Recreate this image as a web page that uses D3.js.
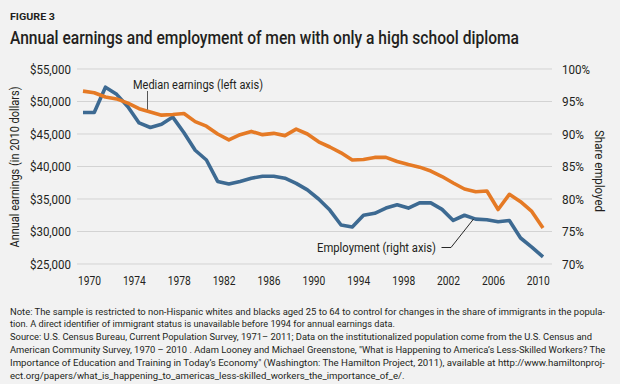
<!DOCTYPE html>
<html>
<head>
<meta charset="utf-8">
<script src="https://cdn.jsdelivr.net/npm/d3@7/dist/d3.min.js"></script>
<style>
  html, body { margin: 0; padding: 0; background: #f2f2f2; }
  svg { display: block; font-family: Roboto, "Noto Sans", sans-serif; }
</style>
</head>
<body>
<svg id="chart" width="620" height="384"></svg>
<script>
// data
const years = [1970, 1971, 1972, 1973, 1974, 1975, 1976, 1977, 1978, 1979,
  1980, 1981, 1982, 1983, 1984, 1985, 1986, 1987, 1988, 1989,
  1990, 1991, 1992, 1993, 1994, 1995, 1996, 1997, 1998, 1999,
  2000, 2001, 2002, 2003, 2004, 2005, 2006, 2007, 2008, 2009,
  2010, 2011];
// median earnings, 2010 dollars (left axis)
const earnings = [51600, 51350, 50700, 50400, 49750, 48900, 48400, 47900, 48000, 48150,
  46900, 46200, 45000, 44100, 44900, 45400, 44900, 45100, 44750, 45750,
  45000, 43800, 43000, 42100, 41000, 41080, 41400, 41400, 40770, 40300,
  39900, 39300, 38460, 37460, 36540, 36120, 36230, 33380, 35720, 34580,
  33080, 30540];
// share employed, % (right axis)
const employment = [93.3, 93.3, 97.2, 96.1, 94.2, 91.7, 91.0, 91.5, 92.6, 90.2,
  87.5, 86.0, 82.7, 82.3, 82.7, 83.2, 83.5, 83.5, 83.2, 82.4,
  81.4, 80.0, 78.3, 76.0, 75.7, 77.5, 77.8, 78.6, 79.1, 78.6,
  79.4, 79.4, 78.4, 76.7, 77.5, 76.9, 76.8, 76.5, 76.7, 74.0,
  72.6, 71.1];

const yearTicks = [1970, 1974, 1978, 1982, 1986, 1990, 1994, 1998, 2002, 2006, 2010];
const earningsTicks = [25000, 30000, 35000, 40000, 45000, 50000, 55000];
const shareTicks = [70, 75, 80, 85, 90, 95, 100];

const noteLines = [
  "Note: The sample is restricted to non-Hispanic whites and blacks aged 25 to 64 to control for changes in the share of immigrants in the popula-",
  "tion. A direct identifier of immigrant status is unavailable before 1994 for annual earnings data.",
  "Source: U.S. Census Bureau, Current Population Survey, 1971\u2013 2011; Data on the institutionalized population come from the U.S. Census and",
  "American Community Survey, 1970 \u2013 2010 . Adam Looney and Michael Greenstone, \"What is Happening to America\u2019s Less-Skilled Workers? The",
  "Importance of Education and Training in Today\u2019s Economy\" (Washington: The Hamilton Project, 2011), available at http://www.hamiltonproj-",
  "ect.org/papers/what_is_happening_to_americas_less-skilled_workers_the_importance_of_e/."
];
const noteWidths = [595, 385, 582, 595, 594, 394];

const svg = d3.select('#chart');
const textColor = '#231f20';

// squeeze text to a width, the source font is a condensed one
function fit(sel, w) {
  sel.attr('textLength', w).attr('lengthAdjust', 'spacingAndGlyphs');
  return sel;
}

const x = d3.scaleLinear().domain([1970, 2011]).range([83, 543]);
const yL = d3.scaleLinear().domain([25000, 55000]).range([264, 69]);
const yR = d3.scaleLinear().domain([70, 100]).range([264, 69]);

// header
fit(svg.append('text')
  .attr('x', 10).attr('y', 20)
  .attr('font-size', 9.5).attr('font-weight', 700)
  .attr('fill', textColor)
  .text('FIGURE 3'), 45);

fit(svg.append('text')
  .attr('x', 10).attr('y', 44)
  .attr('font-size', 17.5).attr('font-weight', 500)
  .attr('fill', textColor)
  .text('Annual earnings and employment of men with only a high school diploma'), 509);

// grid
svg.append('g')
  .selectAll('line')
  .data(earningsTicks)
  .join('line')
  .attr('x1', 77).attr('x2', 552)
  .attr('y1', d => yL(d)).attr('y2', d => yL(d))
  .attr('stroke', '#d3d3d3').attr('stroke-width', 1);

// left axis labels
const fmt = d3.format('$,');
svg.append('g')
  .selectAll('text')
  .data(earningsTicks)
  .join('text')
  .attr('x', 71).attr('y', d => yL(d) + 4.5)
  .attr('text-anchor', 'end')
  .attr('font-size', 12.5).attr('fill', textColor)
  .text(d => fmt(d))
  .each(function() { fit(d3.select(this), 41); });

// right axis labels
svg.append('g')
  .selectAll('text')
  .data(shareTicks)
  .join('text')
  .attr('x', 562).attr('y', d => yR(d) + 4.5)
  .attr('font-size', 12.5).attr('fill', textColor)
  .text(d => d + '%')
  .each(function(d) { fit(d3.select(this), d === 100 ? 28 : 22); });

// x labels
svg.append('g')
  .selectAll('text')
  .data(yearTicks)
  .join('text')
  .attr('x', d => x(d) + 6.5).attr('y', 284.5)
  .attr('text-anchor', 'middle')
  .attr('font-size', 12.5).attr('fill', textColor)
  .text(d => d)
  .each(function() { fit(d3.select(this), 23); });

// axis titles
fit(svg.append('text')
  .attr('transform', 'translate(19,167) rotate(-90)')
  .attr('text-anchor', 'middle')
  .attr('font-size', 12.5).attr('fill', textColor)
  .text('Annual earnings (in 2010 dollars)'), 161);

fit(svg.append('text')
  .attr('transform', 'translate(595,171) rotate(90)')
  .attr('text-anchor', 'middle')
  .attr('font-size', 12.5).attr('fill', textColor)
  .text('Share employed'), 82);

// lines
const lineL = d3.line().x((d, i) => x(years[i])).y(d => yL(d));
const lineR = d3.line().x((d, i) => x(years[i])).y(d => yR(d));

svg.append('path')
  .datum(employment)
  .attr('d', lineR)
  .attr('fill', 'none')
  .attr('stroke', '#3d6a92')
  .attr('stroke-width', 3.6)
  .attr('stroke-linejoin', 'round');

svg.append('path')
  .datum(earnings)
  .attr('d', lineL)
  .attr('fill', 'none')
  .attr('stroke', '#e57a25')
  .attr('stroke-width', 3.6)
  .attr('stroke-linejoin', 'round');

// annotations
fit(svg.append('text')
  .attr('x', 133).attr('y', 88.5)
  .attr('font-size', 12.5).attr('fill', textColor)
  .text('Median earnings (left axis)'), 130);
svg.append('line')
  .attr('x1', 147.5).attr('x2', 147.5)
  .attr('y1', 91).attr('y2', yL(48750))
  .attr('stroke', '#555').attr('stroke-width', 1);

fit(svg.append('text')
  .attr('x', 317).attr('y', 252)
  .attr('font-size', 12.5).attr('fill', textColor)
  .text('Employment (right axis)'), 119);
svg.append('path')
  .attr('d', d3.line()([[441.5, 247.5], [451, 247.5], [x(2004.8), yR(76.9)]]))
  .attr('fill', 'none')
  .attr('stroke', '#111').attr('stroke-width', 0.9);

// notes: shrink the font until each line fits its width, no squeezing
svg.append('g')
  .selectAll('text')
  .data(noteLines)
  .join('text')
  .attr('x', 10).attr('y', (d, i) => 314.5 + i * 12.9)
  .attr('font-size', 10.2).attr('fill', textColor)
  .text(d => d)
  .each(function(d, i) {
    const len = this.getComputedTextLength();
    if (len > noteWidths[i]) {
      d3.select(this).attr('font-size', (10.2 * noteWidths[i] / len).toFixed(2));
    }
  });
</script>
</body>
</html>
